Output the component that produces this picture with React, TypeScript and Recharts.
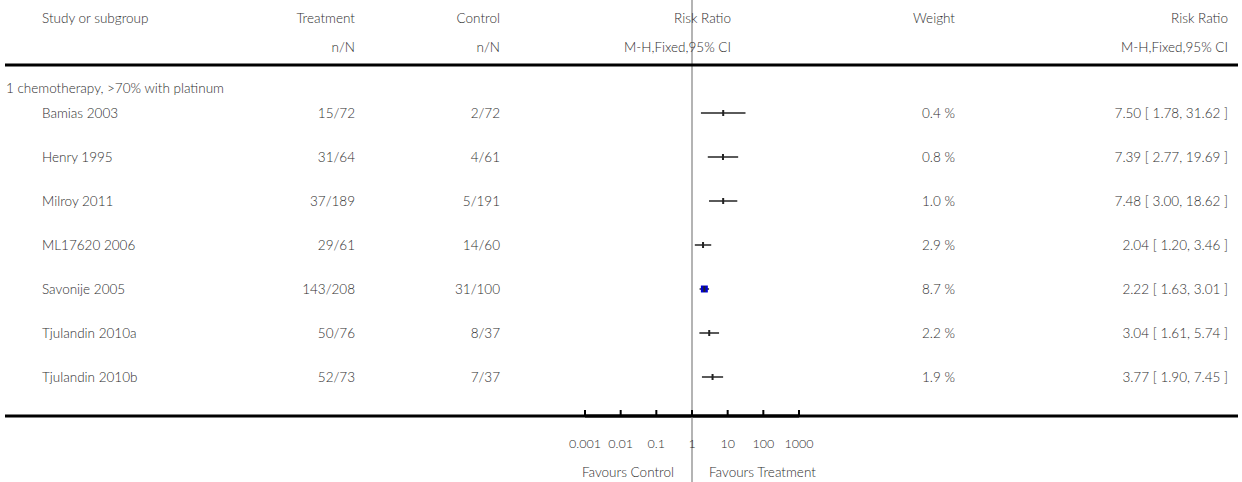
import { ErrorBar, ReferenceLine, Scatter, ScatterChart, XAxis, YAxis } from "recharts"

const studies = ["Bamias 2003", "Henry 1995", "Milroy 2011", "ML17620 2006", "Savonije 2005", "Tjulandin 2010a", "Tjulandin 2010b"]
const treatment = ["15/72", "31/64", "37/189", "29/61", "143/208", "50/76", "52/73"]
const control = ["2/72", "4/61", "5/191", "14/60", "31/100", "8/37", "7/37"]
const weights = [0.4, 0.8, 1.0, 2.9, 8.7, 2.2, 1.9]
const riskRatio = [7.5, 7.39, 7.48, 2.04, 2.22, 3.04, 3.77]
const ciLow = [1.78, 2.77, 3.0, 1.2, 1.63, 1.61, 1.9]
const ciHigh = [31.62, 19.69, 18.62, 3.46, 3.01, 5.74, 7.45]
const axisTicks = [0.001, 0.01, 0.1, 1, 10, 100, 1000]
const axisTickLabels = ["0.001", "0.01", "0.1", "1", "10", "100", "1000"]
const subgroup = "1 chemotherapy, >70% with platinum"

const W = 1242
const H = 482
const FONT = "Lato, 'Open Sans', sans-serif"
const TEXT = "#2e2e2e"
// layout
const PLOT_LEFT = 585
const PLOT_RIGHT = 799
const AXIS_Y = 416
const FIRST_ROW = 113
const ROW_H = 44

const data = studies.map((s, i) => ({
  study: s,
  row: i,
  rr: riskRatio[i],
  weight: weights[i],
  err: [riskRatio[i] - ciLow[i], ciHigh[i] - riskRatio[i]],
}))

// y domain so that row i sits at FIRST_ROW + i*ROW_H inside a plot 0..AXIS_Y
const yDomain = [-FIRST_ROW / ROW_H, (AXIS_Y - FIRST_ROW) / ROW_H]

const fmt = (v: number) => v.toFixed(2)

function PointMark(props: any) {
  const { cx, cy, payload } = props
  const side = payload.weight * 0.8
  return (
    <g>
      {side > 3 && <rect x={cx - side / 2} y={cy - side / 2} width={side} height={side} fill="#0000D4" />}
      <rect x={cx - 1} y={cy - 3} width={2} height={6} fill="#222" />
    </g>
  )
}

function AxisTick(props: any) {
  const { x, y, payload, index } = props
  return (
    <g>
      <line x1={x} x2={x} y1={y - 6} y2={y} stroke="#000" strokeWidth={2} />
      {payload.value === 1 && <line x1={x} x2={x} y1={y} y2={H} stroke="#b4b4b4" strokeWidth={2} />}
      <text x={x} y={y + 32} textAnchor="middle" fontSize={12.5} fontWeight={300} fontFamily={FONT} fill={TEXT}>
        {axisTickLabels[index]}
      </text>
    </g>
  )
}

export default function App() {
  const t = { fontSize: 13.5, fontFamily: FONT, fill: TEXT, fontWeight: 300 }
  const rowY = (i: number) => FIRST_ROW + i * ROW_H + 5
  return (
    <div style={{ position: "absolute", left: 0, top: 0, width: W, height: H, background: "#fff" }}>
      <ScatterChart
        width={W}
        height={H}
        margin={{ top: 0, right: W - PLOT_RIGHT, bottom: 0, left: PLOT_LEFT }}
        style={{ position: "absolute", left: 0, top: 0 }}
      >
        <XAxis
          type="number"
          dataKey="rr"
          scale="log"
          domain={[0.001, 1000]}
          ticks={axisTicks}
          allowDataOverflow
          height={H - AXIS_Y}
          axisLine={{ stroke: "#000", strokeWidth: 3 }}
          tickLine={false}
          tickSize={0}
          tickMargin={0}
          tick={<AxisTick />}
          interval={0}
        />
        <YAxis type="number" dataKey="row" domain={yDomain} reversed hide />
        <ReferenceLine x={1} stroke="#b4b4b4" strokeWidth={2} />
        <Scatter data={data} shape={<PointMark />} isAnimationActive={false}>
          <ErrorBar dataKey="err" direction="x" width={0} stroke="#5a5a5a" strokeWidth={2} isAnimationActive={false} />
        </Scatter>
      </ScatterChart>
      <svg width={W} height={H} style={{ position: "absolute", left: 0, top: 0, pointerEvents: "none" }}>
        <g {...t}>
          <text x={42} y={23}>Study or subgroup</text>
          <text x={355} y={23} textAnchor="end">Treatment</text>
          <text x={355} y={52} textAnchor="end">n/N</text>
          <text x={500} y={23} textAnchor="end">Control</text>
          <text x={500} y={52} textAnchor="end">n/N</text>
          <text x={731} y={23} textAnchor="end">Risk Ratio</text>
          <text x={731} y={52} textAnchor="end">M-H,Fixed,95% CI</text>
          <text x={955} y={23} textAnchor="end">Weight</text>
          <text x={1228} y={23} textAnchor="end">Risk Ratio</text>
          <text x={1228} y={52} textAnchor="end">M-H,Fixed,95% CI</text>
          <text x={6} y={93}>{subgroup}</text>
          {studies.map((s, i) => (
            <g key={s}>
              <text x={42} y={rowY(i)}>{s}</text>
              <text x={355} y={rowY(i)} textAnchor="end">{treatment[i]}</text>
              <text x={500} y={rowY(i)} textAnchor="end">{control[i]}</text>
              <text x={955} y={rowY(i)} textAnchor="end">{weights[i].toFixed(1)} %</text>
              <text x={1228} y={rowY(i)} textAnchor="end">
                {fmt(riskRatio[i])} [ {fmt(ciLow[i])}, {fmt(ciHigh[i])} ]
              </text>
            </g>
          ))}
          <text x={674} y={477} textAnchor="end">Favours Control</text>
          <text x={709} y={477}>Favours Treatment</text>
        </g>
        <line x1={5} x2={1238} y1={65} y2={65} stroke="#000" strokeWidth={3} />
        <line x1={5} x2={1238} y1={AXIS_Y} y2={AXIS_Y} stroke="#000" strokeWidth={3} />
      </svg>
    </div>
  )
}
